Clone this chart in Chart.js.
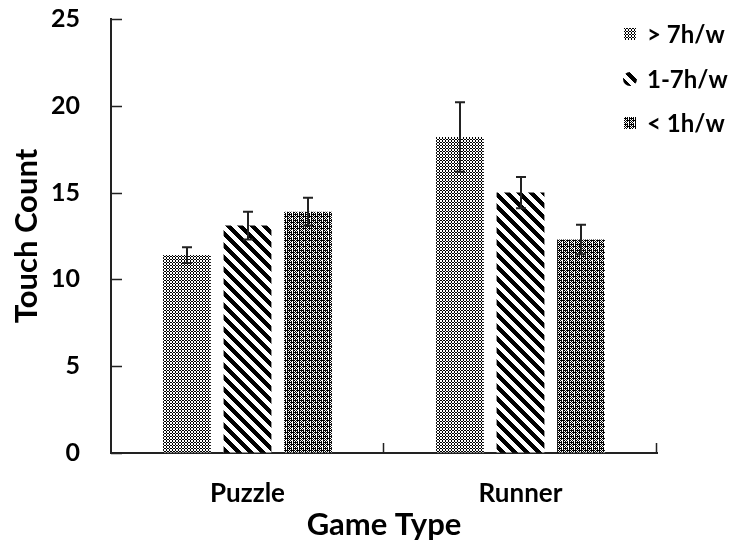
<!DOCTYPE html>
<html>
<head>
<meta charset="utf-8">
<script src="https://cdn.jsdelivr.net/npm/chart.js@4.4.1/dist/chart.umd.min.js"></script>
<style>
  html, body { margin: 0; padding: 0; background: #fff; }
  #wrap { width: 741px; height: 545px; }
</style>
</head>
<body>
<div id="wrap"><canvas id="c"></canvas></div>
<script>
// Mean touch counts per game type, grouped by weekly play time
const categories = ['Puzzle', 'Runner'];
const seriesNames = ['> 7h/w', '1-7h/w', '< 1h/w'];
const over7 = [11.4, 18.2];
const oneToSeven = [13.1, 15.0];
const under1 = [13.9, 12.3];
// Error bar half-lengths
const over7Err = [0.45, 2.0];
const oneToSevenErr = [0.8, 0.9];
const under1Err = [0.8, 0.85];
const yTicks = [0, 5, 10, 15, 20, 25];

const FONT = 'Lato, "Open Sans", sans-serif';

// Monochrome fill patterns built from small pixel tiles
function tilePattern(w, h, isInk) {
  const c = document.createElement('canvas');
  c.width = w; c.height = h;
  const g = c.getContext('2d');
  g.fillStyle = '#fff';
  g.fillRect(0, 0, w, h);
  g.fillStyle = '#000';
  for (let y = 0; y < h; y++) {
    for (let x = 0; x < w; x++) {
      if (isInk(x, y)) g.fillRect(x, y, 1, 1);
    }
  }
  return g.createPattern(c, 'repeat');
}
function rows(r) {
  return (x, y) => r[y][x] === '#';
}
const ringPattern = tilePattern(6, 6, rows([
  '.#..#.',
  '#.##.#',
  '.#..#.',
  '.#..#.',
  '#.##.#',
  '.#..#.'
]));
const stripePattern = tilePattern(12, 12, (x, y) => ((x - y + 120) % 12) < 6);
const densePattern = tilePattern(6, 6, rows([
  '#.####',
  '.#.#.#',
  '#.#..#',
  '.#.#.#',
  '####.#',
  '.#.#.#'
]));
const fills = [ringPattern, stripePattern, densePattern];
const errors = [over7Err, oneToSevenErr, under1Err];

// Vertical error bars with caps, positioned on each bar
const errorBars = {
  id: 'errorBars',
  afterDatasetsDraw(chart) {
    const ctx = chart.ctx;
    const ys = chart.scales.y;
    ctx.save();
    ctx.strokeStyle = '#222';
    ctx.lineWidth = 2;
    chart.data.datasets.forEach((ds, d) => {
      const meta = chart.getDatasetMeta(d);
      meta.data.forEach((bar, i) => {
        const v = ds.data[i], e = errors[d][i];
        const top = ys.getPixelForValue(v + e);
        const bot = ys.getPixelForValue(v - e);
        const x = Math.round(bar.x);
        ctx.beginPath();
        ctx.moveTo(x, top); ctx.lineTo(x, bot);
        ctx.moveTo(x - 5, top); ctx.lineTo(x + 5, top);
        ctx.moveTo(x - 5, bot); ctx.lineTo(x + 5, bot);
        ctx.stroke();
      });
    });
    ctx.restore();
  }
};

// Inward tick marks on both axes
const innerTicks = {
  id: 'innerTicks',
  afterDraw(chart) {
    const ctx = chart.ctx;
    const ys = chart.scales.y, xs = chart.scales.x;
    const area = chart.chartArea;
    ctx.save();
    ctx.strokeStyle = '#222';
    ctx.lineWidth = 1.5;
    ctx.beginPath();
    yTicks.forEach(v => {
      const y = Math.round(ys.getPixelForValue(v)) + 0.5;
      ctx.moveTo(area.left, y);
      ctx.lineTo(area.left + 11, y);
    });
    const n = categories.length;
    const w = (xs.right - xs.left) / n;
    for (let k = 1; k <= n; k++) {
      const x = Math.round(xs.left + k * w) - 0.5;
      ctx.moveTo(x, area.bottom);
      ctx.lineTo(x, area.bottom - 10);
    }
    ctx.stroke();
    ctx.restore();
  }
};

// Legend stacked at the upper right
const cornerLegend = {
  id: 'cornerLegend',
  afterDraw(chart) {
    const ctx = chart.ctx;
    const rowsY = [34, 79, 123];
    ctx.save();
    ctx.font = 'bold 24px ' + FONT;
    ctx.textBaseline = 'middle';
    seriesNames.forEach((name, i) => {
      const cy = rowsY[i];
      ctx.fillStyle = fills[i];
      if (i === 1) {
        ctx.beginPath();
        ctx.arc(630, cy, 7, 0, Math.PI * 2);
        ctx.fill();
      } else {
        ctx.fillRect(624, cy - 6, 12, 12);
      }
      ctx.fillStyle = '#000';
      ctx.fillText(name, 647, cy + 1);
    });
    ctx.restore();
  }
};

const datasets = [over7, oneToSeven, under1].map((vals, d) => ({
  label: seriesNames[d],
  data: vals,
  backgroundColor: fills[d],
  borderWidth: 0,
  categoryPercentage: 0.665,
  barPercentage: 0.79
}));

// Invisible tick marks push the labels away from the axis line
const hiddenTickGrid = (len) => ({
  display: true, drawOnChartArea: false, drawTicks: true,
  tickLength: len, tickColor: 'rgba(0,0,0,0)'
});

new Chart(document.getElementById('c'), {
  type: 'bar',
  data: { labels: categories, datasets },
  options: {
    responsive: true,
    maintainAspectRatio: false,
    animation: false,
    layout: { padding: { top: 19, right: 84, left: 0, bottom: 0 } },
    plugins: {
      legend: { display: false },
      tooltip: { enabled: false }
    },
    scales: {
      x: {
        grid: hiddenTickGrid(23),
        border: { display: true, color: '#222', width: 2 },
        ticks: { color: '#000', padding: 2, font: { family: FONT, size: 26, weight: 'bold' } },
        title: {
          display: true, text: 'Game Type', color: '#000',
          font: { family: FONT, size: 31, weight: 'bold' },
          padding: { top: 0, bottom: 1 }
        },
        afterFit(scale) { scale.height = 92; }
      },
      y: {
        min: 0, max: 25,
        afterBuildTicks(scale) { scale.ticks = yTicks.map(v => ({ value: v })); },
        grid: hiddenTickGrid(29),
        border: { display: true, color: '#222', width: 2 },
        ticks: { color: '#000', padding: 2, font: { family: FONT, size: 25, weight: 'bold' } },
        title: {
          display: true, text: 'Touch Count', color: '#000',
          font: { family: FONT, size: 31, weight: 'bold' },
          padding: { top: 8, bottom: 0 }
        },
        afterFit(scale) { scale.width = 111; }
      }
    }
  },
  plugins: [errorBars, innerTicks, cornerLegend]
});
</script>
</body>
</html>
